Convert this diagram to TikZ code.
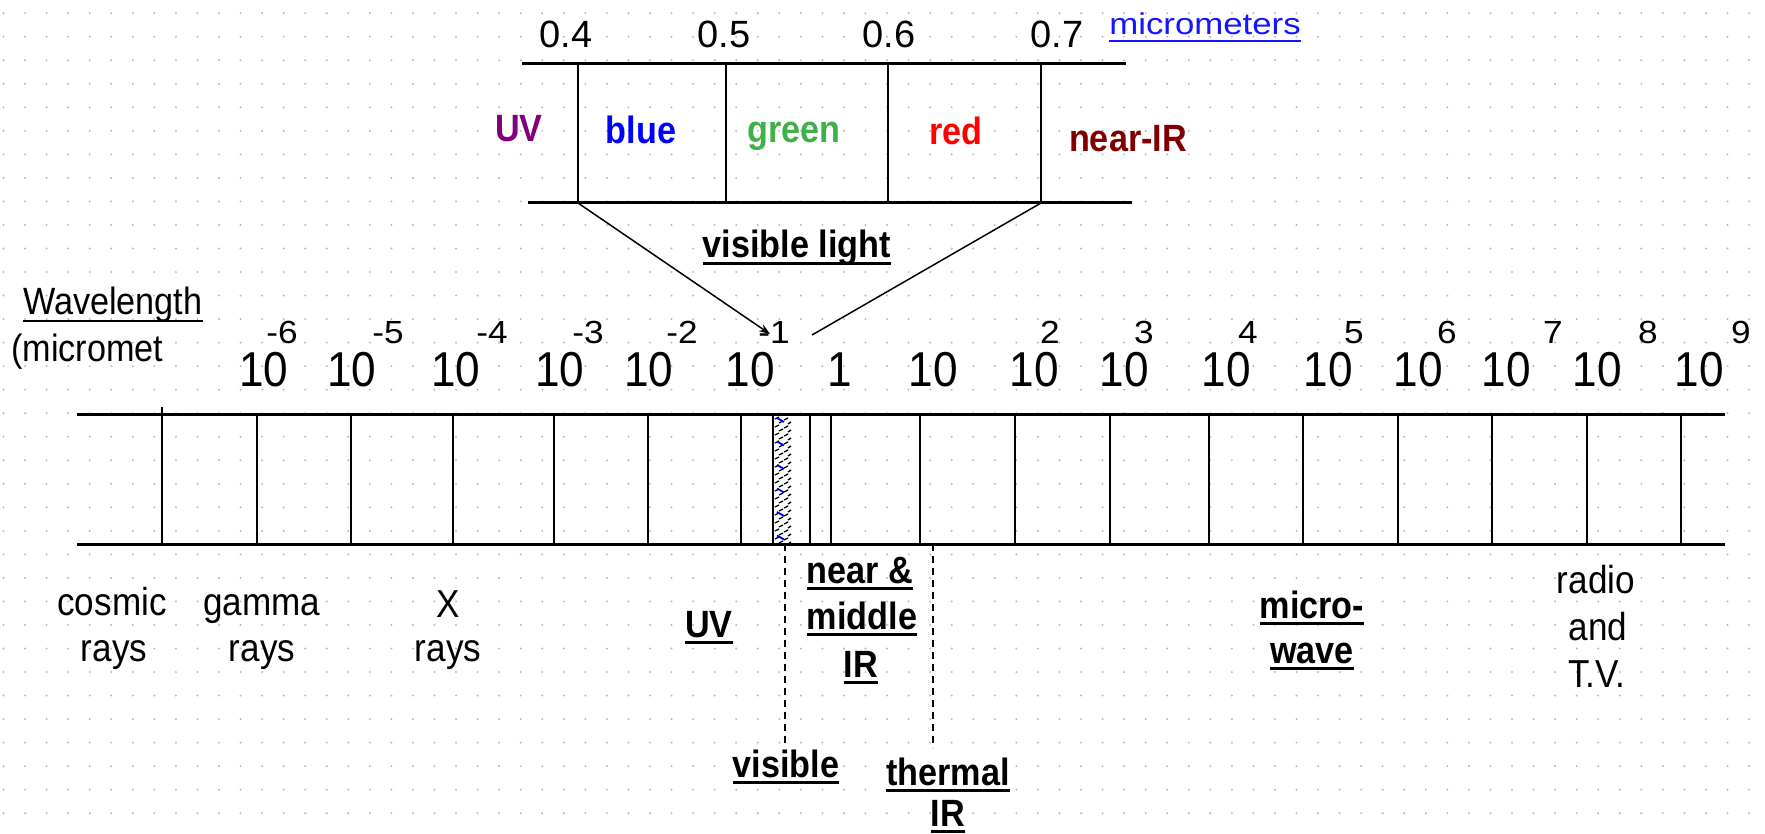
\documentclass[tikz,border=0pt]{standalone}
\usepackage{fontspec}
\setmainfont{Liberation Sans}[FakeStretch=0.9]
\newfontfamily\widefont{Liberation Sans}[FakeStretch=1.16]
\newfontfamily\plainfont{Liberation Sans}
\newfontfamily\expofont{Liberation Sans}[FakeStretch=1.1]
\usetikzlibrary{arrows.meta}
\definecolor{dotc}{RGB}{185,185,185}
\definecolor{uvpurple}{RGB}{128,0,128}
\definecolor{vblue}{RGB}{0,0,255}
\definecolor{vgreen}{RGB}{64,176,72}
\definecolor{vred}{RGB}{255,0,0}
\definecolor{nirred}{RGB}{128,0,0}
\definecolor{linkblue}{RGB}{20,20,255}
\newcommand\ulthick[1]{\setbox0=\hbox{#1}\rlap{\rule[-7pt]{\wd0}{3pt}}\box0}
\newcommand\ulthin[1]{\setbox0=\hbox{#1}\rlap{\rule[-7pt]{\wd0}{2pt}}\box0}
\tikzset{
  hline/.style={line width=3pt},
  vline/.style={line width=2pt},
  lab/.style={inner sep=0pt, anchor=base, font=\fontsize{39}{39}\selectfont},
  ten/.style={inner sep=0pt, anchor=base, font=\fontsize{49}{49}\selectfont},
  expo/.style={inner sep=0pt, anchor=base, font=\fontsize{32}{32}\expofont},
  ticklab/.style={inner sep=0pt, anchor=base, font=\fontsize{38}{38}\plainfont},
  blab/.style={inner sep=0pt, anchor=base, font=\fontsize{38}{38}\selectfont\bfseries},
  diag/.style={line width=1.5pt},
  dline/.style={line width=2pt, dash pattern=on 7pt off 5pt},
  hatchmark/.style={line width=1.3pt},
}
\begin{document}
\begin{tikzpicture}[x=1pt,y=-1pt]
\useasboundingbox (0,0) rectangle (1765,834);
\fill[white] (0,0) rectangle (1765,834);
% dot grid
\foreach \i in {0,...,81}{
  \foreach \j in {0,...,35}{
    \fill[dotc] (3.5+21.55*\i,13.2+23.53*\j) circle (1.1pt);
  }
}
% ---------- visible-light box ----------
\draw[hline] (522,64) -- (1126,64);
\draw[hline] (528,203) -- (1132,203);
\foreach \x in {578,726,888,1041}{
  \draw[vline] (\x,64) -- (\x,203);
}
\coordinate (b04) at (578,203);
\coordinate (b07) at (1041,203);
\node[ticklab] (t04) at (566,48) {0.4};
\node[ticklab] (t05) at (724,48) {0.5};
\node[ticklab] (t06) at (889,48) {0.6};
\node[ticklab] (t07) at (1057,48) {0.7};
\node[inner sep=0pt, anchor=base, font=\fontsize{30}{30}\widefont, text=linkblue] (microm) at (1205,35) {\ulthin{micrometers}};
\node[blab, text=uvpurple] (uvtop) at (519,142) {UV};
\node[blab, text=vblue] (blue) at (641,144) {blue};
\node[blab, text=vgreen] (green) at (794,143) {green};
\node[blab, text=vred] (red) at (956,145) {red};
\node[blab, text=nirred] (nir) at (1128,152) {near-IR};
\node[blab] (vislight) at (797,258) {\ulthick{visible light}};
% ---------- axis labels ----------
\node[lab, anchor=base west, font=\fontsize{38}{38}\selectfont] (wl) at (23,315) {\ulthin{Wavelength}};
\node[lab, anchor=base west, font=\fontsize{38}{38}\selectfont] (wlunit) at (11,362) {(micromet};
\foreach \x/\e [count=\n] in {282/-6,388/-5,492/-4,588/-3,682/-2,774/-1,1050/2,1144/3,1248/4,1354/5,1447/6,1553/7,1648/8,1741/9}{
  \node[expo] (e\n) at (\x,344) {\e};
}
\foreach \x [count=\n] in {264,352,456,560,649,750,933,1034,1124,1226,1328,1418,1506,1597,1699}{
  \node[ten] (ten\n) at (\x,386) {10};
}
\node[ten] (one) at (840,386) {1};
% connectors from the visible box to the 10^-1 .. 1 interval
\coordinate (tipL) at (770,334);
\coordinate (tipR) at (812,335);
\draw[diag, -{Stealth[length=11pt,width=8pt]}] (b04) -- (tipL);
\draw[diag] (b07) -- (tipR);
% ---------- main band ----------
\fill[white] (773,414) rectangle (793,544);
\foreach \y in {417,425,...,537}{
  \draw[hatchmark] (775,\y+2) -- (779,\y);
  \draw[hatchmark] (784,\y+3) -- (788,\y+1);
  \draw[hatchmark] (779,\y+6) -- (783,\y+4);
  \draw[hatchmark] (788,\y+7) -- (791,\y+5);
}
\foreach \k in {0,...,5}{
  \draw[vblue, line width=1.8pt] (777,418+23.5*\k) -- (784,422+23.5*\k);
}
\draw[hline] (77,414) -- (1725,414);
\draw[hline] (77,544) -- (1725,544);
\draw[vline] (162,407) -- (162,544);
\foreach \x in {257,351,453,554,648,741,773,810,831,920,1015,1110,1209,1303,1398,1492,1587,1681}{
  \draw[vline] (\x,414) -- (\x,544);
}
% ---------- region labels ----------
\node[lab] (cos1) at (112,615) {cosmic};
\node[lab] (cos2) at (114,661) {rays};
\node[lab] (gam1) at (262,615) {gamma};
\node[lab] (gam2) at (262,661) {rays};
\node[lab] (xr1) at (448,617) {X};
\node[lab] (xr2) at (448,661) {rays};
\node[lab] (rad1) at (1596,593) {radio};
\node[lab] (rad2) at (1598,640) {and};
\node[lab] (rad3) at (1597,687) {T.V.};
\node[blab] (uvb) at (709,637) {\ulthick{UV}};
\node[blab] (nm1) at (860,583) {\ulthick{near \&}};
\node[blab] (nm2) at (862,629) {\ulthick{middle}};
\node[blab] (nm3) at (861,677) {\ulthick{IR}};
\node[blab] (mw1) at (1312,618) {\ulthick{micro-}};
\node[blab] (mw2) at (1312,663) {\ulthick{wave}};
\node[blab] (visb) at (786,777) {\ulthick{visible}};
\node[blab] (th1) at (948,785) {\ulthick{thermal}};
\node[blab] (th2) at (948,826) {\ulthick{IR}};
% dashed markers
\coordinate (visTop) at (785,544);
\coordinate (visEnd) at (785,745);
\coordinate (thTop) at (933,544);
\coordinate (thEnd) at (933,748);
\draw[dline] (visTop) -- (visEnd);
\draw[dline] (thTop) -- (thEnd);
\end{tikzpicture}
\end{document}
